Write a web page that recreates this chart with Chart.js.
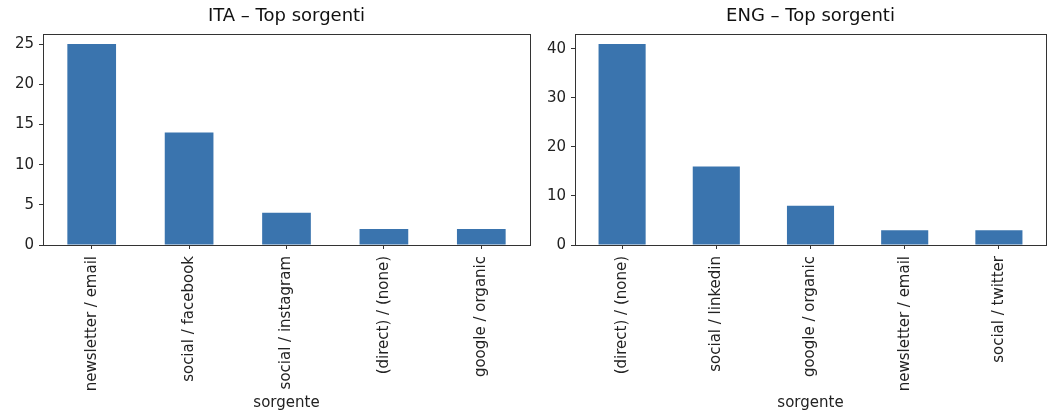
<!DOCTYPE html>
<html>
<head>
<meta charset="utf-8">
<script src="https://cdn.jsdelivr.net/npm/chart.js@4"></script>
<style>
  body { margin: 0; background: #fff; }
  #wrap { position: relative; width: 1049px; height: 414px; }
  .box { position: absolute; top: 0; height: 414px; }
</style>
</head>
<body>
<div id="wrap">
  <div class="box" style="left:0;width:540px"><canvas id="itaChart"></canvas></div>
  <div class="box" style="left:532px;width:517px"><canvas id="engChart"></canvas></div>
</div>
<script>
// dati
const itaLabels = ["newsletter / email", "social / facebook", "social / instagram", "(direct) / (none)", "google / organic"];
const itaValues = [25, 14, 4, 2, 2];
const itaTicks = [0, 5, 10, 15, 20, 25];

const engLabels = ["(direct) / (none)", "social / linkedin", "google / organic", "newsletter / email", "social / twitter"];
const engValues = [41, 16, 8, 3, 3];
const engTicks = [0, 10, 20, 30, 40];

const barColor = "#3a74ae";
const font = { family: "DejaVu Sans", size: 15 };

// cornice completa come in matplotlib
const frame = {
  id: "frame",
  afterDraw(chart) {
    const a = chart.chartArea;
    const c = chart.ctx;
    c.save();
    c.strokeStyle = "#333";
    c.lineWidth = 1;
    c.strokeRect(Math.round(a.left) + 0.5, Math.round(a.top) + 0.5, Math.round(a.right - a.left), Math.round(a.bottom - a.top));
    c.restore();
  }
};

function makeChart(id, title, labels, values, ticks, padLeft, padRight) {
  const ctx = document.getElementById(id).getContext("2d");
  return new Chart(ctx, {
    type: "bar",
    data: {
      labels: labels,
      datasets: [{
        data: values,
        backgroundColor: barColor,
        borderWidth: 0,
        barPercentage: 0.5,
        categoryPercentage: 1.0,
      }],
    },
    options: {
      responsive: true,
      maintainAspectRatio: false,
      animation: false,
      layout: { padding: { left: padLeft, right: padRight, top: 0, bottom: 0 } },
      plugins: {
        legend: { display: false },
        tooltip: { enabled: false },
        title: {
          display: true,
          fullSize: false,
          text: title,
          color: "#111",
          font: { family: "DejaVu Sans", size: 18, weight: "normal" },
          padding: { top: 6, bottom: 6.4 },
        },
      },
      scales: {
        x: {
          offset: true,
          grid: { display: true, offset: false, drawOnChartArea: false, drawTicks: true, tickLength: 4, color: "#333" },
          border: { display: false },
          ticks: { color: "#222", font: font, minRotation: 90, maxRotation: 90, autoSkip: false, padding: 7 },
          title: { display: true, text: "sorgente", color: "#222", font: font, padding: { top: 4, bottom: 2 } },
          afterFit(scale) { scale.height = 169; },
        },
        y: {
          min: 0,
          max: Math.max(...values) * 1.05,
          afterBuildTicks(scale) { scale.ticks = ticks.map(v => ({ value: v })); },
          grid: { display: true, drawOnChartArea: false, drawTicks: true, tickLength: 4, color: "#333" },
          border: { display: false },
          ticks: { color: "#222", font: font, padding: 5 },
          afterFit(scale) { scale.width = 43; },
        },
      },
    },
    plugins: [frame],
  });
}

makeChart("itaChart", "ITA \u2013 Top sorgenti", itaLabels, itaValues, itaTicks, 0, 10);
makeChart("engChart", "ENG \u2013 Top sorgenti", engLabels, engValues, engTicks, 0, 3);
</script>
</body>
</html>
